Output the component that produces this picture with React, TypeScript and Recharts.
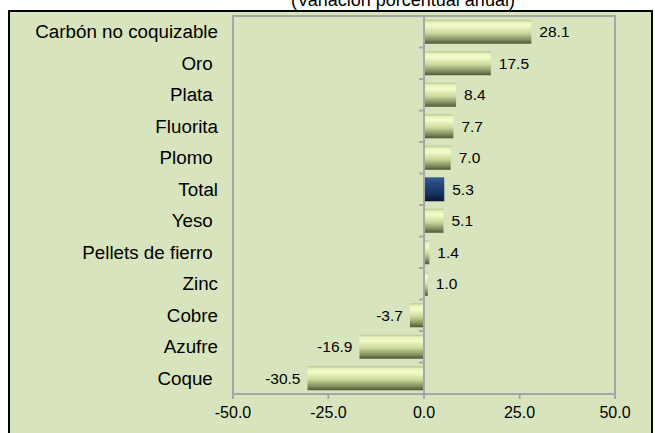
import React from 'react';
import { BarChart, Bar, XAxis, YAxis, Cell, LabelList, ReferenceLine, ReferenceArea } from 'recharts';

const categories = [
  'Carbón no coquizable',
  'Oro ',
  'Plata ',
  'Fluorita',
  'Plomo ',
  'Total',
  'Yeso ',
  'Pellets de fierro ',
  'Zinc',
  'Cobre',
  'Azufre',
  'Coque ',
];
const values = [28.1, 17.5, 8.4, 7.7, 7.0, 5.3, 5.1, 1.4, 1.0, -3.7, -16.9, -30.5];
const xTicks = [-50, -25, 0, 25, 50];
const title = '(Variación porcentual anual)';

const data = categories.map((c, i) => ({ name: c, value: values[i] }));

const FONT = 'Arial, "Liberation Sans", sans-serif';
const GRAY = '#a6a6a6';

const CatTick = (props: any) => {
  const { x, y, payload } = props;
  const txt = String(payload.value).replace(/ $/, '\u00A0');
  return (
    <text x={x} y={y} dy="0.355em" textAnchor="end" fontSize={18.8} fontFamily={FONT} fill="#000">
      {txt}
    </text>
  );
};

const ZeroLine = (props: any) => {
  const { x1, y1, x2, y2 } = props;
  const n = categories.length;
  const step = (y2 - y1) / n;
  const ticks = [];
  for (let i = 0; i <= n; i++) {
    const yy = y1 + i * step;
    ticks.push(<line key={i} x1={x1 - 5} y1={yy} x2={x1} y2={yy} stroke={GRAY} strokeWidth={2} />);
  }
  return (
    <g>
      <line x1={x1} y1={y1} x2={x2} y2={y2} stroke={GRAY} strokeWidth={2} />
      {ticks}
    </g>
  );
};

const ValueLabel = (props: any) => {
  const { x, y, width, height, value } = props;
  const left = Math.min(x, x + width);
  const right = Math.max(x, x + width);
  const cy = y + height / 2;
  const neg = value < 0;
  return (
    <text
      x={neg ? left - 7 : right + 8}
      y={cy}
      dy="0.355em"
      textAnchor={neg ? 'end' : 'start'}
      fontSize={15.5}
      fontFamily={FONT}
      fill="#000"
    >
      {Number(value).toFixed(1)}
    </text>
  );
};

export default function App() {
  return (
    <div style={{ position: 'absolute', left: 0, top: 0, width: 655, height: 433, overflow: 'hidden', background: '#fff' }}>
      <div
        style={{
          position: 'absolute',
          left: 8,
          top: 10,
          width: 645,
          height: 440,
          boxSizing: 'border-box',
          border: '2px solid #000',
          background: '#d7e4bd',
        }}
      />
      <svg style={{ position: 'absolute', left: 0, top: 0 }} width={655} height={20}>
        <text x={403} y={6} textAnchor="middle" fontSize={18} fontFamily={FONT} fill="#000">
          {title}
        </text>
      </svg>
      <div style={{ position: 'absolute', left: 0, top: 0 }}>
        <BarChart
          width={655}
          height={433}
          data={data}
          layout="vertical"
          margin={{ top: 16, right: 40, bottom: 0, left: 0 }}
          barCategoryGap="12%"
        >
          <defs>
            <linearGradient id="gGreen" x1="0" y1="0" x2="0" y2="1">
              <stop offset="0%" stopColor="#b8c28a" />
              <stop offset="10%" stopColor="#e8f2bc" />
              <stop offset="25%" stopColor="#f3fccb" />
              <stop offset="55%" stopColor="#cdd99d" />
              <stop offset="80%" stopColor="#8c9864" />
              <stop offset="100%" stopColor="#4c5834" />
            </linearGradient>
            <linearGradient id="gBlue" x1="0" y1="0" x2="0" y2="1">
              <stop offset="0%" stopColor="#3c5d8f" />
              <stop offset="25%" stopColor="#274a7e" />
              <stop offset="65%" stopColor="#183664" />
              <stop offset="100%" stopColor="#0a1733" />
            </linearGradient>
          </defs>
          <ReferenceArea x1={-50} x2={50} fill="none" stroke={GRAY} strokeWidth={2} ifOverflow="visible" />
          <XAxis
            type="number"
            domain={[-50, 50]}
            ticks={xTicks}
            tickFormatter={(v: number) => v.toFixed(1)}
            height={39}
            axisLine={{ stroke: GRAY, strokeWidth: 2 }}
            tickLine={{ stroke: GRAY, strokeWidth: 2 }}
            tickSize={5}
            tickMargin={8}
            tick={{ fontSize: 16, fontFamily: FONT, fill: '#000' }}
            interval={0}
          />
          <YAxis
            type="category"
            dataKey="name"
            width={233}
            axisLine={false}
            tickLine={false}
            tickSize={0}
            tickMargin={15}
            tick={<CatTick />}
            interval={0}
          />
          <ReferenceLine x={0} shape={<ZeroLine />} ifOverflow="visible" />
          <Bar dataKey="value" isAnimationActive={false}>
            {data.map((d, i) => (
              <Cell key={i} fill={d.name === 'Total' ? 'url(#gBlue)' : 'url(#gGreen)'} />
            ))}
            <LabelList dataKey="value" content={<ValueLabel />} />
          </Bar>
        </BarChart>
      </div>
    </div>
  );
}
